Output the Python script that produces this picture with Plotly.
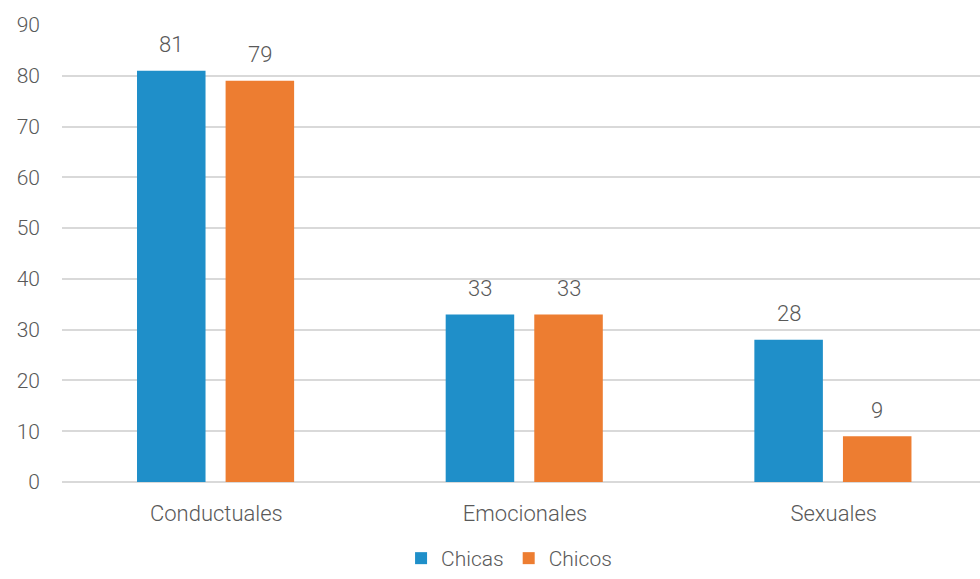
import plotly.graph_objects as go

categories = ["Conductuales", "Emocionales", "Sexuales"]
chicas = [81, 33, 28]
chicos = [79, 33, 9]
series_names = ["Chicas", "Chicos"]
y_ticks = [0, 10, 20, 30, 40, 50, 60, 70, 80, 90]

BLUE = "#1F8FC9"
ORANGE = "#ED7D31"
GRAY = "#595959"
GRID = "#D9D9D9"
FONT = "Roboto"

BAR_W = 0.222
OFFSETS = [-0.257, 0.030]

fig = go.Figure()
for name, vals, color, off in [(series_names[0], chicas, BLUE, OFFSETS[0]),
                               (series_names[1], chicos, ORANGE, OFFSETS[1])]:
    fig.add_trace(go.Bar(
        name=name, x=categories, y=vals,
        marker=dict(color=color, line=dict(width=0)),
        width=BAR_W, offset=off,
    ))
    for i, v in enumerate(vals):
        fig.add_annotation(
            x=i + off + BAR_W / 2, y=v, xref="x", yref="y",
            text=str(v), showarrow=False, yanchor="middle", yshift=26,
            font=dict(family=FONT, size=22, color=GRAY, weight=300),
        )

fig.update_layout(
    width=980, height=579,
    margin=dict(l=62, r=0, t=25, b=97),
    plot_bgcolor="white", paper_bgcolor="white",
    font=dict(family=FONT, color=GRAY, weight=300),
    barmode="group",
    showlegend=True,
    legend=dict(orientation="h", x=0.487, xanchor="center",
                yref="container", y=-0.01, yanchor="bottom",
                font=dict(family=FONT, size=21, color=GRAY, weight=300),
                itemwidth=30, traceorder="normal"),
    xaxis=dict(range=[-0.5, 2.474], showgrid=False, showline=False, ticks="",
               automargin=False,
               tickfont=dict(family=FONT, size=22, color=GRAY, weight=300),
               ticklabelstandoff=16),
    yaxis=dict(range=[0, 90], tickvals=y_ticks, showgrid=True, gridcolor=GRID, gridwidth=2,
               zeroline=True, zerolinecolor=GRID, zerolinewidth=2,
               showline=False, ticks="", automargin=False,
               tickfont=dict(family=FONT, size=21, color=GRAY, weight=300),
               ticklabelstandoff=21),
)

fig.write_html("out.html", config={"displayModeBar": False},
               post_script="document.body.style.margin='0';")
